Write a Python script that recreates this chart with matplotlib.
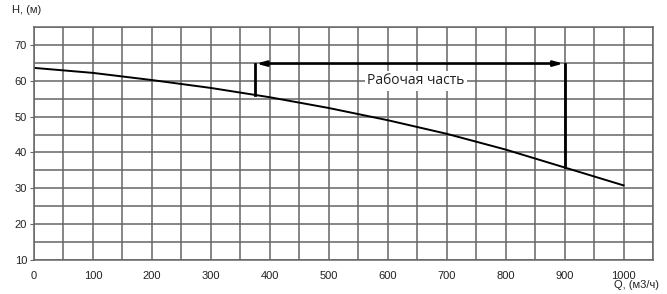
import matplotlib.pyplot as plt
import numpy as np

# Pump curve H(Q)
q = [0, 100, 200, 300, 400, 500, 600, 700, 800, 900, 1000]
h = [63.6, 62.2, 60.2, 58.0, 55.4, 52.4, 49.0, 45.2, 40.8, 35.8, 30.8]

# Working range
q_left = 375
q_right = 900
h_arrow = 64.8
h_left_bottom = 55.9
h_right_bottom = 35.8

plt.rcParams['font.family'] = ['Liberation Sans', 'DejaVu Sans']

fig = plt.figure(figsize=(6.67, 2.94), dpi=100)
ax = fig.add_axes([0.051, 0.116, 0.928, 0.792])

ax.set_xlim(0, 1050)
ax.set_ylim(10, 75)
ax.set_xticks(np.arange(0, 1001, 100))
ax.set_yticks(np.arange(10, 71, 10))
ax.set_xticks(np.arange(0, 1051, 50), minor=True)
ax.set_yticks(np.arange(10, 76, 5), minor=True)
ax.grid(True, which='both', color='#666666', linewidth=1.1)
ax.tick_params(which='minor', length=0)
ax.tick_params(axis='y', which='major', length=3, color='#666666', labelsize=8, pad=2,
               labelcolor='#222222')
ax.tick_params(axis='x', which='major', length=0, labelsize=8, pad=8, labelcolor='#222222')
ax.set_axisbelow(True)
for s in ax.spines.values():
    s.set_color('#666666')
    s.set_linewidth(1.1)

ax.plot(q, h, color='black', linewidth=1.4)

# working range markers
ax.plot([q_left, q_left], [h_left_bottom, h_arrow], color='black', linewidth=2)
ax.plot([q_right, q_right], [h_right_bottom, h_arrow], color='black', linewidth=2)
ax.annotate('', xy=(q_left + 2, h_arrow), xytext=(q_right - 2, h_arrow),
            arrowprops=dict(arrowstyle='<|-|>,head_width=0.25,head_length=0.9',
                            color='black', lw=1.8, mutation_scale=6,
                            shrinkA=0, shrinkB=0))
ax.text(648, 60, 'Рабочая часть', ha='center', va='center', fontsize=10,
        family=['Open Sans', 'DejaVu Sans'], color='#222222',
        bbox=dict(facecolor='white', edgecolor='none', pad=2))

fig.text(0.018, 0.965, 'H, (м)', fontsize=8, ha='left', va='center', color='#222222')
fig.text(0.988, 0.03, 'Q, (м3/ч)', fontsize=8, ha='right', va='center', color='#222222')

plt.savefig('out.png', dpi=100)
